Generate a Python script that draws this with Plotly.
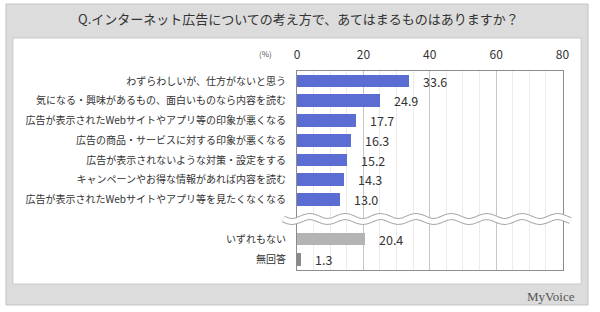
import numpy as np
import plotly.graph_objects as go

# ---- data ----
categories = [
    "わずらわしいが、仕方がないと思う",
    "気になる・興味があるもの、面白いものなら内容を読む",
    "広告が表示されたWebサイトやアプリ等の印象が悪くなる",
    "広告の商品・サービスに対する印象が悪くなる",
    "広告が表示されないような対策・設定をする",
    "キャンペーンやお得な情報があれば内容を読む",
    "広告が表示されたWebサイトやアプリ等を見たくなくなる",
]
values = [33.6, 24.9, 17.7, 16.3, 15.2, 14.3, 13.0]
other_categories = ["いずれもない", "無回答"]
other_values = [20.4, 1.3]
x_ticks = [0, 20, 40, 60, 80]
title_text = "Q.インターネット広告についての考え方で、あてはまるものはありますか？"

W, H = 600, 312
FONT = "Noto Sans CJK JP"

# positions (layout): main group rows, then a gap, then other group
main_pos = list(range(len(categories)))
other_pos = [len(categories) + 1 + 1.05 * i for i in range(len(other_categories))]

fig = go.Figure()
fig.add_trace(go.Bar(
    y=main_pos, x=values, orientation="h", width=0.64,
    marker=dict(color="#5b6cd2", line=dict(width=0)),
    hoverinfo="skip", showlegend=False,
))
fig.add_trace(go.Bar(
    y=other_pos, x=other_values, orientation="h", width=0.64,
    marker=dict(color=["#b4b4b4", "#8a8a8a"], line=dict(width=0)),
    hoverinfo="skip", showlegend=False,
))

# value labels
for p, v in zip(main_pos + other_pos, values + other_values):
    fig.add_annotation(x=v, y=p, xref="x", yref="y", text=f"{v:.1f}",
                       showarrow=False, xanchor="left", xshift=12,
                       font=dict(family=FONT, size=12.5, color="#333333"))

def px(x):
    return x / W

def py(y):
    return 1 - y / H

shapes = []
# outer gray box
shapes.append(dict(type="rect", xref="paper", yref="paper", x0=px(3), x1=px(595), y0=py(305), y1=py(4),
                   fillcolor="#dcdcdc", line=dict(color="#c4c4c4", width=1), layer="below"))
# white panel
shapes.append(dict(type="rect", xref="paper", yref="paper", x0=px(10), x1=px(588), y0=py(284), y1=py(38),
                   fillcolor="#ffffff", line=dict(color="#c8c8c8", width=1), layer="below"))

# wave break
xs = np.linspace(285, 577, 300)
ys = 219 + 2.4 * np.sin(2 * np.pi * (xs - 285) / 36)
path = "M " + " L ".join(f"{px(a):.5f},{py(b):.5f}" for a, b in zip(xs, ys))
shapes.append(dict(type="path", xref="paper", yref="paper", path=path,
                   line=dict(color="#a8a8a8", width=7), layer="above"))
shapes.append(dict(type="path", xref="paper", yref="paper", path=path,
                   line=dict(color="#ffffff", width=5), layer="above"))

fig.update_layout(shapes=shapes)

# title, unit, logo
fig.add_annotation(xref="paper", yref="paper", x=0.5, y=py(18), text=title_text, showarrow=False,
                   xanchor="center", yanchor="middle",
                   font=dict(family=FONT, size=13, color="#333333"))
fig.add_annotation(xref="paper", yref="paper", x=px(276), y=py(53), text="(%)", showarrow=False,
                   xanchor="right", yanchor="middle",
                   font=dict(family=FONT, size=8, color="#555555"))
fig.add_annotation(xref="paper", yref="paper", x=px(584), y=py(296), text="MyVoice", showarrow=False,
                   xanchor="right", yanchor="middle",
                   font=dict(family="Liberation Serif", size=13, color="#555555"))

y_top, y_bot = -0.51, 9.57
fig.update_layout(
    width=W, height=H, autosize=False,
    margin=dict(l=0, r=0, t=0, b=0),
    paper_bgcolor="#ffffff", plot_bgcolor="rgba(0,0,0,0)",
    bargap=0,
    xaxis=dict(
        domain=[px(299), px(569)], range=[0, 80], side="top",
        tickvals=x_ticks, ticktext=[str(t) for t in x_ticks],
        tickfont=dict(family=FONT, size=12, color="#333333"),
        showgrid=True, gridcolor="#c6c6c6", gridwidth=1,
        minor=dict(dtick=5, showgrid=True, gridcolor="#ebebeb", gridwidth=1),
        showline=True, linecolor="#8c8c8c", linewidth=1, mirror=True,
        zeroline=False, ticks="", ticklabelstandoff=6, fixedrange=True,
    ),
    yaxis=dict(
        domain=[py(270), py(71)], range=[y_bot, y_top],
        tickvals=main_pos + other_pos, ticktext=categories + other_categories,
        tickfont=dict(family=FONT, size=10, color="#333333"),
        showgrid=False, showline=True, linecolor="#8c8c8c", linewidth=1, mirror=True,
        zeroline=False, ticks="", ticklabelstandoff=8, fixedrange=True,
    ),
)

fig.write_html("out.html")
